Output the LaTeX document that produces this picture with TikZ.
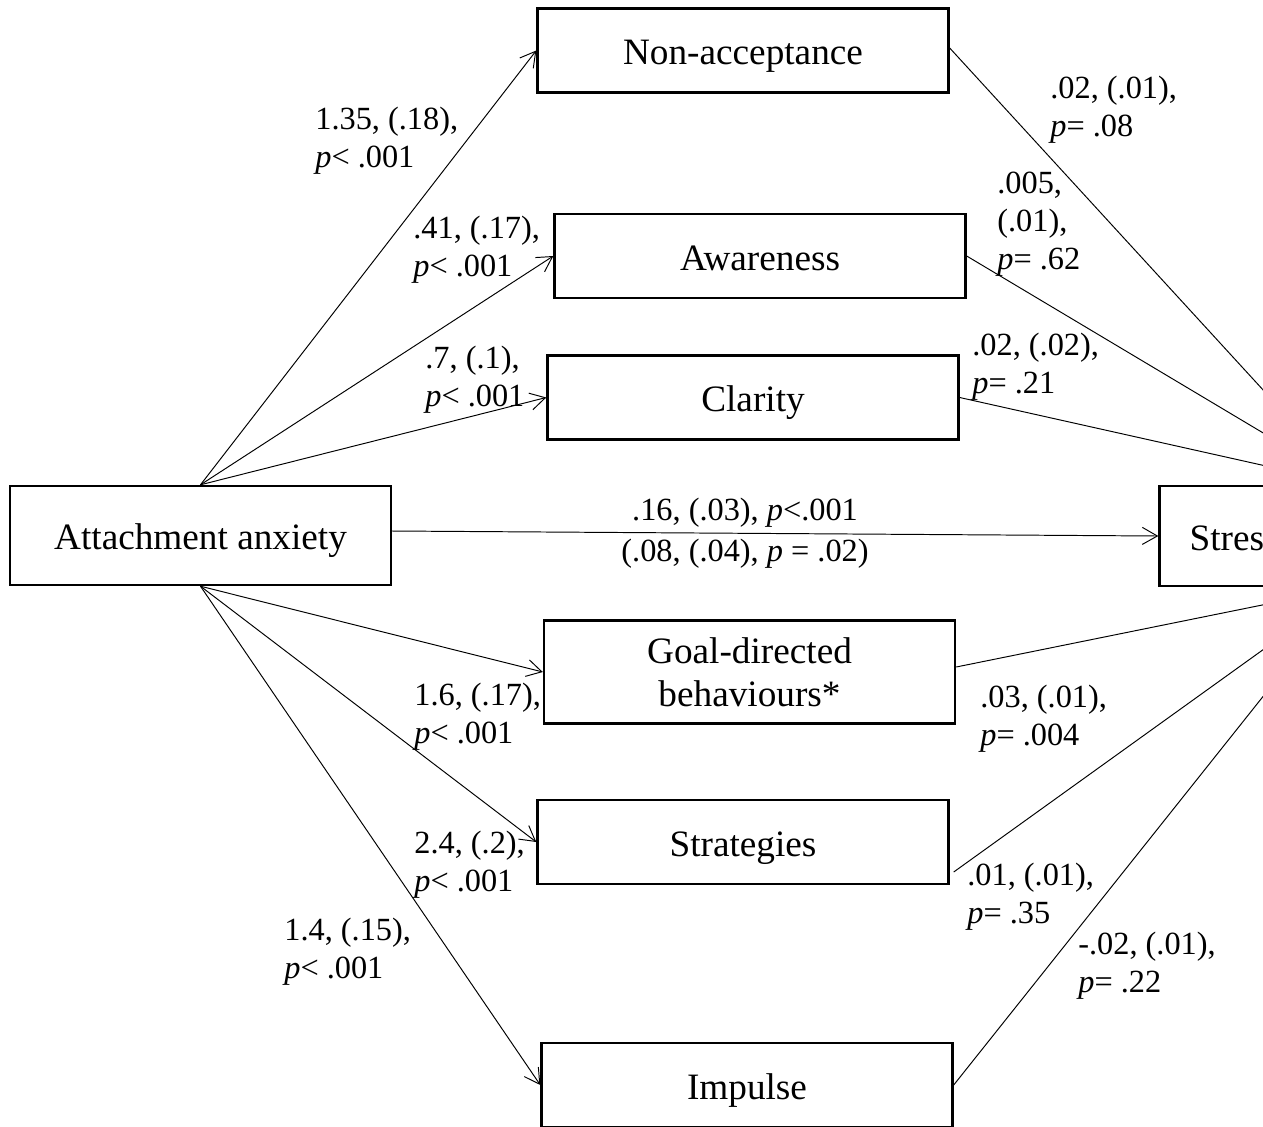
\documentclass[tikz,border=0pt]{standalone}
\usepackage{fontspec}
\setmainfont{Liberation Serif}
\usetikzlibrary{arrows.meta,calc}
\begin{document}
\begin{tikzpicture}[x=0.02cm,y=-0.02cm,
  box/.style={draw, line width=1.4pt, rectangle, inner sep=0pt,
    minimum width=8.22cm, minimum height=1.68cm,
    font=\fontsize{21.2pt}{24.5pt}\selectfont, align=center},
  oneline/.style={text height=20.7pt, text depth=4.26pt},
  lab/.style={anchor=north west, inner sep=0pt, align=left,
    font=\fontsize{18.4pt}{21.6pt}\selectfont},
  conn/.style={line width=0.55pt},
  arr/.style={conn, -{Straight Barb[length=0.3cm,width=0.34cm]}}]
\useasboundingbox (0,0) rectangle (1263,1126);
\clip (0,0) rectangle (1263,1126);

% nodes
\node[box, oneline, minimum width=7.62cm, minimum height=1.98cm] (att) at (200.5,535.5) {Attachment anxiety};
\node[box, oneline, minimum width=7.62cm, minimum height=2cm, text width=6.42cm, align=left, inner xsep=0.6cm] (stress) at (1350,536) {Stress};
\node[box, oneline] (nonacc) at (743,50.5) {Non-acceptance};
\node[box, oneline] (aware) at (760,256) {Awareness};
\node[box, oneline] (clar) at (753,397.5) {Clarity};
\node[box, minimum height=2.06cm] (goal) at (749.5,672) {Goal-directed\\behaviours*};
\node[box, oneline] (strat) at (743,842) {Strategies};
\node[box, oneline] (imp) at (747,1085) {Impulse};

% a paths
\draw[arr] (att.north) -- (nonacc.west);
\draw[arr] (att.north) -- (aware.west);
\draw[arr] (att.north) -- (clar.west);
\draw[arr] ([yshift=0.09cm]att.east) -- (stress.west);
\draw[arr] (att.south) -- (goal.west);
\draw[arr] (att.south) -- (strat.west);
\draw[arr] (att.south) -- (imp.west);

% b paths
\draw[conn] ([yshift=0.05cm]nonacc.east) -- (stress.north);
\draw[conn] (aware.east) -- (stress.north);
\draw[conn] (clar.east) -- (stress.north);
\draw[conn] ([yshift=0.1cm]goal.east) -- (stress.south);
\draw[conn] ([shift={(4,30)}]strat.east) -- (stress.south);
\draw[conn] (imp.east) -- (stress.south);

% labels
\node[lab] (l1) at (315,107) {1.35, (.18),\\\textit{p}< .001};
\node[lab] (l2) at (413,216) {.41, (.17),\\\textit{p}< .001};
\node[lab] (l3) at (425,346) {.7, (.1),\\\textit{p}< .001};
\node[lab] (l5) at (414,683) {1.6, (.17),\\\textit{p}< .001};
\node[lab] (l6) at (414,831) {2.4, (.2),\\\textit{p}< .001};
\node[lab] (l7) at (284,918) {1.4, (.15),\\\textit{p}< .001};
\node[lab] (r1) at (1050,76) {.02, (.01),\\\textit{p}= .08};
\node[lab] (r2) at (997,172) {.005,\\(.01),\\\textit{p}= .62};
\node[lab] (r3) at (972,333) {.02, (.02),\\\textit{p}= .21};
\node[lab] (r4) at (980,685) {.03, (.01),\\\textit{p}= .004};
\node[lab] (r5) at (967,863) {.01, (.01),\\\textit{p}= .35};
\node[lab] (r6) at (1078,932) {-.02, (.01),\\\textit{p}= .22};
\node[inner sep=0pt, align=center, font=\fontsize{18.4pt}{21.6pt}\selectfont] (c) at (745,533)
  {.16, (.03), \textit{p}<.001\\[0.06cm](.08, (.04), \textit{p} = .02)};
\end{tikzpicture}
\end{document}
